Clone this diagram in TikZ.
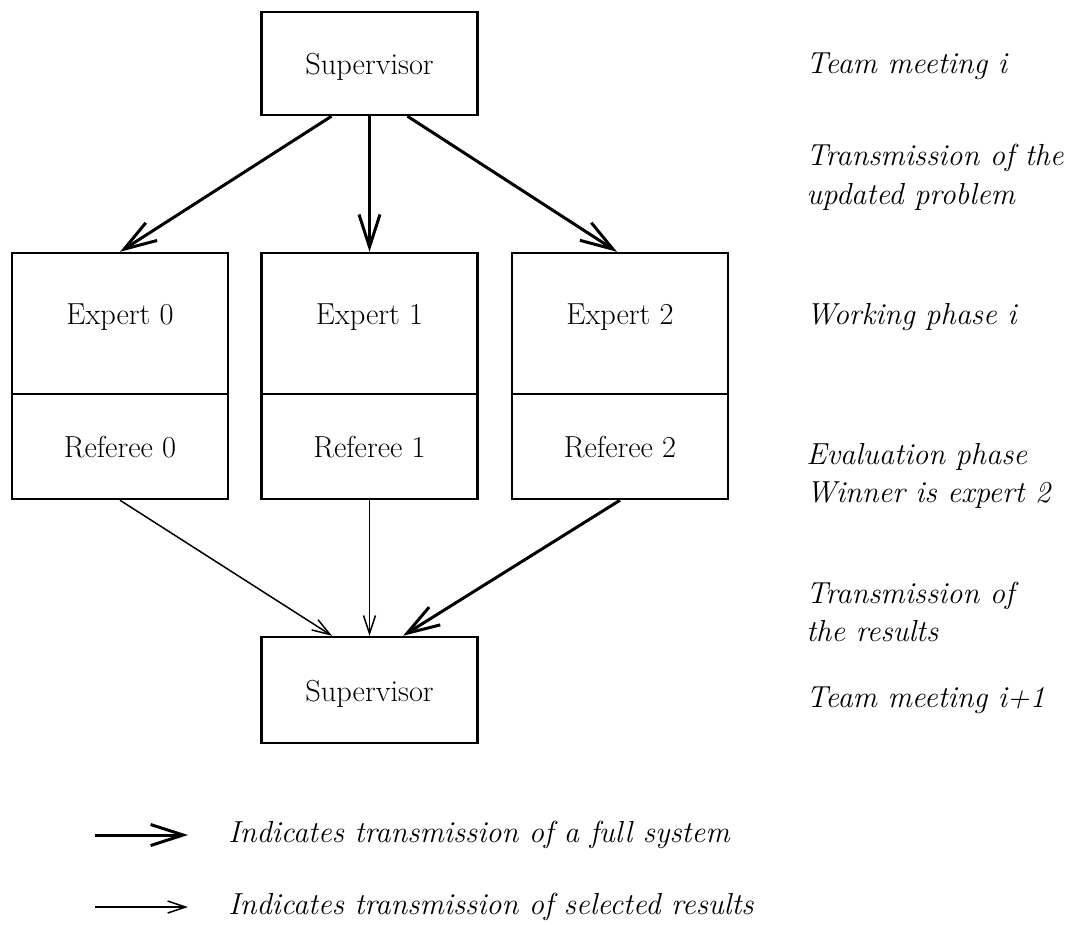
\documentclass[tikz,border=0pt]{standalone}
\usetikzlibrary{arrows.meta,positioning}

\tikzset{
  box/.style={draw, line width=1.4pt, minimum width=4.32cm, inner sep=0pt,
    font=\fontsize{17.3}{21}\selectfont, text height=1.3em, text depth=0pt},
  upper/.style={box, text height=0.7em, text depth=0.54em},
  full/.style={line width=1.7pt, -{Straight Barb[length=6.5mm,width=4.2mm]}},
  sel/.style={line width=0.85pt, -{Straight Barb[length=3.6mm,width=2.4mm]}},
  note/.style={anchor=west, align=left, inner sep=0pt,
    font=\fontsize{17.3}{22}\selectfont\itshape}
}

\begin{document}
\begin{tikzpicture}[x=0.02cm, y=-0.02cm]
    \useasboundingbox (0,0) rectangle (1074,924);

    % Supervisor at the start
    \node[box, minimum height=2.06cm] (sup) at (369.5,63.5) {Supervisor};

    % Experts and referees
    \node[upper, minimum height=2.82cm] (e0) at (120,323.5) {Expert 0};
    \node[upper, minimum height=2.82cm] (e1) at (369.5,323.5) {Expert 1};
    \node[upper, minimum height=2.82cm] (e2) at (620,323.5) {Expert 2};
    \node[box, minimum height=2.1cm] (r0) at (120,446.5) {Referee 0};
    \node[box, minimum height=2.1cm] (r1) at (369.5,446.5) {Referee 1};
    \node[box, minimum height=2.1cm] (r2) at (620,446.5) {Referee 2};

    % Supervisor at the end
    \node[box, minimum height=2.12cm] (sup2) at (369.5,690) {Supervisor};

    % Transmission of the problem
    \draw[full] ([xshift=-7.6mm]sup.south) -- (e0.north);
    \draw[full] (sup.south) -- (e1.north);
    \draw[full] ([xshift=7.6mm]sup.south) -- ([xshift=-0.06cm]e2.north);

    % Transmission of the results
    \draw[sel] (r0.south) -- ([xshift=-7.5mm]sup2.north);
    \draw[sel] (r1.south) -- (sup2.north);
    \draw[full] (r2.south) -- ([xshift=6.7mm]sup2.north);

    % Phases
    \node[note] (n1) at (806,66) {Team meeting i};
    \node[note] (n2) at (806,177) {Transmission of the\\updated problem};
    \node[note] (n3) at (806,317) {Working phase i};
    \node[note] (n4) at (806,476) {Evaluation phase\\Winner is expert 2};
    \node[note] (n5) at (806,612) {Transmission of\\the results};
    \node[note] (n6) at (806,700) {Team meeting i+1};

    % Legend
    \coordinate (l1s) at (95,835);
    \coordinate (l1e) at (188,835);
    \coordinate (l2s) at (95,907);
    \coordinate (l2e) at (188,907);
    \draw[full] (l1s) -- (l1e);
    \draw[sel] (l2s) -- (l2e);
    \node[note] (t1) at (228,835) {Indicates transmission of a full system};
    \node[note] (t2) at (228,907) {Indicates transmission of selected results};
\end{tikzpicture}
\end{document}
